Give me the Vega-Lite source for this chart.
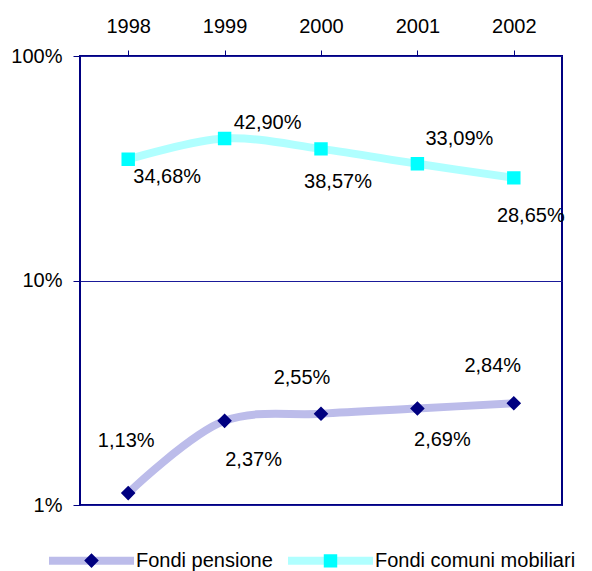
{
  "$schema": "https://vega.github.io/schema/vega-lite/v6.json",
  "width": 482,
  "height": 449,
  "autosize": {"type": "none"},
  "padding": {"left": 80, "top": 56, "right": 30, "bottom": 66},
  "background": "white",
  "config": {
    "locale": {"number": {"decimal": ",", "thousands": ".", "grouping": [3], "currency": ["€", ""]}},
    "font": "Liberation Sans",
    "view": {"stroke": "#000080", "strokeWidth": 2}
  },
  "data": {
    "values": [
      {"year": "1998", "series": "Fondi pensione", "value": 0.0113},
      {"year": "1999", "series": "Fondi pensione", "value": 0.0237},
      {"year": "2000", "series": "Fondi pensione", "value": 0.0255},
      {"year": "2001", "series": "Fondi pensione", "value": 0.0269},
      {"year": "2002", "series": "Fondi pensione", "value": 0.0284},
      {"year": "1998", "series": "Fondi comuni mobiliari", "value": 0.3468},
      {"year": "1999", "series": "Fondi comuni mobiliari", "value": 0.4290},
      {"year": "2000", "series": "Fondi comuni mobiliari", "value": 0.3857},
      {"year": "2001", "series": "Fondi comuni mobiliari", "value": 0.3309},
      {"year": "2002", "series": "Fondi comuni mobiliari", "value": 0.2865}
    ]
  },
  "encoding": {
    "x": {
      "field": "year", "type": "ordinal",
      "scale": {"type": "point", "padding": 0.5},
      "axis": {"orient": "top", "title": null, "labelAngle": 0, "labelFontSize": 20, "labelColor": "black", "domain": false, "tickColor": "#000080", "tickSize": 6, "labelPadding": 14}
    },
    "y": {
      "field": "value", "type": "quantitative",
      "scale": {"type": "log", "domain": [0.01, 1]},
      "axis": {"title": null, "values": [0.01, 0.1, 1], "format": ".0%", "labelFontSize": 20, "labelColor": "black", "domain": false, "tickColor": "#000080", "tickSize": 7, "labelPadding": 11, "gridColor": "#1a1a99", "gridWidth": 1, "gridOpacity": 1}
    }
  },
  "layer": [
    {
      "mark": {"type": "line", "interpolate": "catmull-rom", "strokeWidth": 8},
      "encoding": {
        "stroke": {
          "field": "series", "type": "nominal",
          "scale": {"domain": ["Fondi pensione", "Fondi comuni mobiliari"], "range": ["#bcbcea", "#b0ffff"]},
          "legend": {"orient": "none", "legendX": -35, "legendY": 458, "direction": "horizontal", "title": null, "symbolType": "stroke", "symbolSize": 7225, "symbolStrokeWidth": 8, "labelFontSize": 20, "labelColor": "transparent", "labelLimit": 400, "labelOffset": -2, "columnPadding": -1, "zindex": 0}
        }
      }
    },
    {
      "mark": {"type": "point", "filled": true, "size": 7225, "opacity": 1},
      "encoding": {
        "fill": {
          "field": "series", "type": "nominal", "sort": null,
          "scale": {"range": ["#000080", "#00ffff"]},
          "legend": {"orient": "none", "legendX": -35, "legendY": 458, "direction": "horizontal", "title": null, "symbolSize": 7225, "symbolStrokeWidth": 8, "symbolStrokeColor": "transparent", "labelFontSize": 20, "labelColor": "black", "labelLimit": 400, "labelOffset": -2, "columnPadding": -1, "zindex": 1}
        },
        "shape": {
          "field": "series", "type": "nominal", "sort": null,
          "scale": {"range": ["M-1,0L1,0M0,-0.172L0.172,0L0,0.172L-0.172,0Z", "M-1,0L1,0M-0.158,-0.158L0.158,-0.158L0.158,0.158L-0.158,0.158Z"]},
          "legend": {"orient": "none", "legendX": -35, "legendY": 458, "direction": "horizontal", "title": null, "symbolSize": 7225, "symbolStrokeWidth": 8, "symbolStrokeColor": "transparent", "labelFontSize": 20, "labelColor": "black", "labelLimit": 400, "labelOffset": -2, "columnPadding": -1, "zindex": 1}
        }
      }
    },
    {"transform": [{"filter": "datum.series == 'Fondi comuni mobiliari' && datum.year == '1998'"}], "mark": {"type": "text", "dx": 39, "dy": 18, "fontSize": 20, "color": "black"}, "encoding": {"text": {"field": "value", "type": "quantitative", "format": ".2%"}}},
    {"transform": [{"filter": "datum.series == 'Fondi comuni mobiliari' && datum.year == '1999'"}], "mark": {"type": "text", "dx": 43, "dy": -16, "fontSize": 20, "color": "black"}, "encoding": {"text": {"field": "value", "type": "quantitative", "format": ".2%"}}},
    {"transform": [{"filter": "datum.series == 'Fondi comuni mobiliari' && datum.year == '2000'"}], "mark": {"type": "text", "dx": 17, "dy": 33, "fontSize": 20, "color": "black"}, "encoding": {"text": {"field": "value", "type": "quantitative", "format": ".2%"}}},
    {"transform": [{"filter": "datum.series == 'Fondi comuni mobiliari' && datum.year == '2001'"}], "mark": {"type": "text", "dx": 42, "dy": -25, "fontSize": 20, "color": "black"}, "encoding": {"text": {"field": "value", "type": "quantitative", "format": ".2%"}}},
    {"transform": [{"filter": "datum.series == 'Fondi comuni mobiliari' && datum.year == '2002'"}], "mark": {"type": "text", "dx": 17, "dy": 38, "fontSize": 20, "color": "black"}, "encoding": {"text": {"field": "value", "type": "quantitative", "format": ".2%"}}},
    {"transform": [{"filter": "datum.series == 'Fondi pensione' && datum.year == '1998'"}], "mark": {"type": "text", "dx": -2, "dy": -52, "fontSize": 20, "color": "black"}, "encoding": {"text": {"field": "value", "type": "quantitative", "format": ".2%"}}},
    {"transform": [{"filter": "datum.series == 'Fondi pensione' && datum.year == '1999'"}], "mark": {"type": "text", "dx": 29, "dy": 39, "fontSize": 20, "color": "black"}, "encoding": {"text": {"field": "value", "type": "quantitative", "format": ".2%"}}},
    {"transform": [{"filter": "datum.series == 'Fondi pensione' && datum.year == '2000'"}], "mark": {"type": "text", "dx": -19, "dy": -36, "fontSize": 20, "color": "black"}, "encoding": {"text": {"field": "value", "type": "quantitative", "format": ".2%"}}},
    {"transform": [{"filter": "datum.series == 'Fondi pensione' && datum.year == '2001'"}], "mark": {"type": "text", "dx": 25, "dy": 31, "fontSize": 20, "color": "black"}, "encoding": {"text": {"field": "value", "type": "quantitative", "format": ".2%"}}},
    {"transform": [{"filter": "datum.series == 'Fondi pensione' && datum.year == '2002'"}], "mark": {"type": "text", "dx": -21, "dy": -37, "fontSize": 20, "color": "black"}, "encoding": {"text": {"field": "value", "type": "quantitative", "format": ".2%"}}}
  ]
}
